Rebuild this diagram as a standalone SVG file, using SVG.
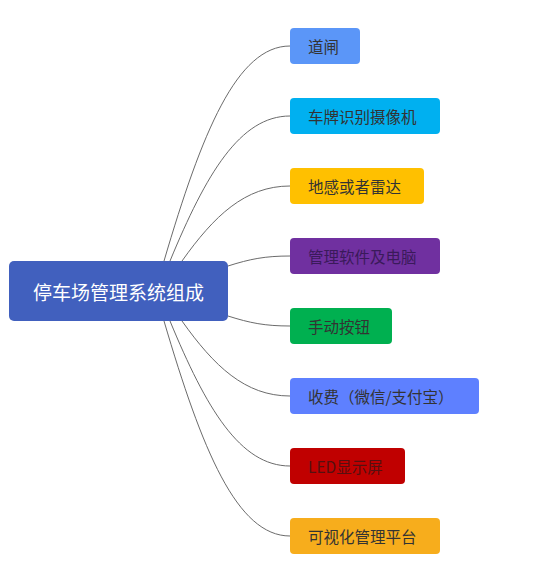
<svg xmlns="http://www.w3.org/2000/svg" width="536" height="567" viewBox="0 0 536 567">
<style>
  .bg { fill: #ffffff; }
  .link { fill: none; stroke: #6b6b6b; stroke-width: 1; }
  .root-box { fill: #4160BE; }
  .root-text { font-family: "Noto Sans CJK SC", "Liberation Sans", sans-serif; font-size: 19px; fill: #ffffff; text-anchor: middle; dominant-baseline: central; }
  .leaf-text { font-family: "Noto Sans CJK SC", "Liberation Sans", sans-serif; font-size: 15.5px; fill: #333333; dominant-baseline: central; }
</style>
<rect class="bg" x="0" y="0" width="536" height="567"/>
<g id="connectors">
  <path class="link" d="M164,261 C202,132 237,46 290,46"/>
  <path class="link" d="M170,261 C206,174 240,116 290,116"/>
  <path class="link" d="M182,261 C214,216 245,186 290,186"/>
  <path class="link" d="M228,266 C250,259 265,256 290,256"/>
  <path class="link" d="M228,316 C250,323 265,326 290,326"/>
  <path class="link" d="M182,321 C214,366 245,396 290,396"/>
  <path class="link" d="M170,321 C206,408 240,466 290,466"/>
  <path class="link" d="M164,321 C202,450 237,536 290,536"/>
</g>
<g id="root">
  <rect class="root-box" x="9" y="261" width="219" height="60" rx="5"/>
  <text class="root-text" x="118.5" y="291.5">停车场管理系统组成</text>
</g>
<g id="n1">
  <rect x="290" y="28" width="70" height="36" rx="4" fill="#5B96F8"/>
  <text class="leaf-text" x="308" y="46">道闸</text>
</g>
<g id="n2">
  <rect x="290" y="98" width="150" height="36" rx="4" fill="#00B0F0"/>
  <text class="leaf-text" x="308" y="116">车牌识别摄像机</text>
</g>
<g id="n3">
  <rect x="290" y="168" width="134" height="36" rx="4" fill="#FFC000"/>
  <text class="leaf-text" x="308" y="186">地感或者雷达</text>
</g>
<g id="n4">
  <rect x="290" y="238" width="150" height="36" rx="4" fill="#7030A0"/>
  <text class="leaf-text" x="308" y="256" style="fill:#3A1A5A">管理软件及电脑</text>
</g>
<g id="n5">
  <rect x="290" y="308" width="102" height="36" rx="4" fill="#00B050"/>
  <text class="leaf-text" x="308" y="326">手动按钮</text>
</g>
<g id="n6">
  <rect x="290" y="378" width="189" height="36" rx="4" fill="#5E80FF"/>
  <text class="leaf-text" x="308" y="396">收费（微信/支付宝）</text>
</g>
<g id="n7">
  <rect x="290" y="448" width="115" height="36" rx="4" fill="#C00000"/>
  <text class="leaf-text" x="308" y="466" style="fill:#551010">LED显示屏</text>
</g>
<g id="n8">
  <rect x="290" y="518" width="150" height="36" rx="4" fill="#F7AD1C"/>
  <text class="leaf-text" x="308" y="536">可视化管理平台</text>
</g>
</svg>
